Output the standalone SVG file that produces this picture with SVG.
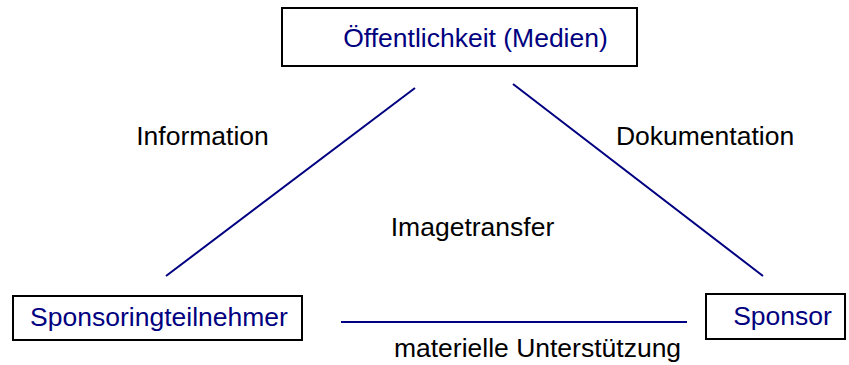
<svg xmlns="http://www.w3.org/2000/svg" width="849" height="365" viewBox="0 0 849 365">
<style>
.box{fill:#fff;stroke:#000;stroke-width:2}
.nt{font-family:"Liberation Sans",Arial,sans-serif;font-size:26.5px;fill:#000080;text-anchor:middle}
.lt{font-family:"Liberation Sans",Arial,sans-serif;font-size:26.5px;fill:#000;text-anchor:middle}
.conn{stroke:#000080;stroke-width:2;fill:none}
</style>
<rect width="849" height="365" fill="#fff"/>
<g id="connectors">
<line class="conn" x1="166" y1="276" x2="415" y2="88"/>
<line class="conn" x1="513" y1="84" x2="763" y2="276"/>
<line class="conn" x1="341" y1="322" x2="687" y2="322"/>
</g>
<g id="node-oeffentlichkeit">
<rect class="box" x="282" y="8" width="355" height="58"/>
<text class="nt" x="475.5" y="47">Öffentlichkeit (Medien)</text>
</g>
<g id="node-sponsoringteilnehmer">
<rect class="box" x="13" y="296" width="289" height="44"/>
<text class="nt" x="159" y="326">Sponsoringteilnehmer</text>
</g>
<g id="node-sponsor">
<rect class="box" x="706" y="294" width="139" height="45"/>
<text class="nt" x="782.5" y="325">Sponsor</text>
</g>
<g id="labels">
<text class="lt" x="202.5" y="145">Information</text>
<text class="lt" x="705" y="145">Dokumentation</text>
<text class="lt" x="472.5" y="236">Imagetransfer</text>
<text class="lt" x="537.5" y="357">materielle Unterstützung</text>
</g>
</svg>
